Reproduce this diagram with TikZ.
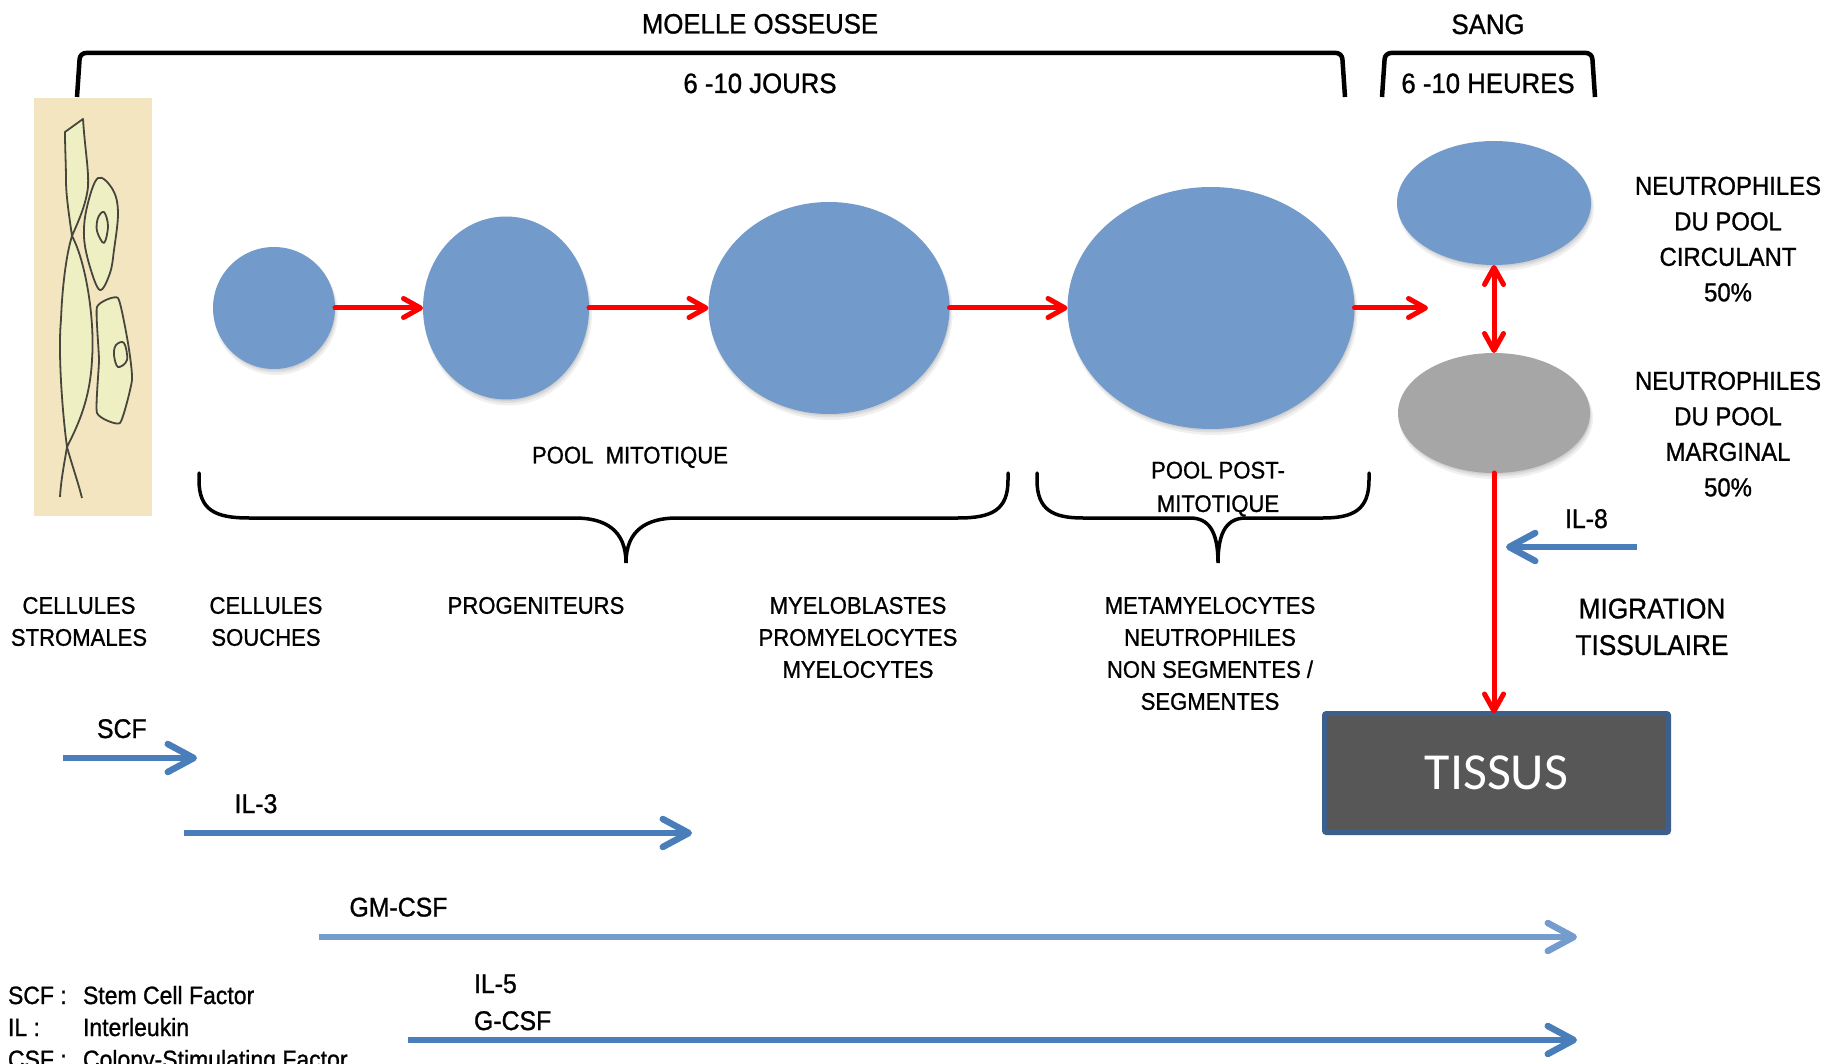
\documentclass[tikz,border=0pt]{standalone}
\usepackage{fontspec}
\setmainfont{Liberation Sans}[FakeStretch=0.92,FakeBold=1]
\newfontfamily\tissusfont{Carlito}
\usetikzlibrary{arrows.meta,shapes.geometric}

\definecolor{cellblue}{RGB}{114,155,203}
\definecolor{cellgray}{RGB}{166,166,166}
\definecolor{flowred}{RGB}{255,0,0}
\definecolor{cytoblue}{RGB}{74,126,187}
\definecolor{cytolight}{RGB}{116,157,205}
\definecolor{tissuefill}{RGB}{87,87,87}
\definecolor{tissueedge}{RGB}{60,95,140}
\definecolor{stromabg}{RGB}{243,229,191}
\definecolor{stromacell}{RGB}{238,240,196}
\definecolor{stromaline}{RGB}{70,70,60}

\newcommand\fsz[2]{\fontsize{#1}{#2}\selectfont}

\begin{document}
\begin{tikzpicture}[x=1pt,y=-1pt,
  every node/.style={inner sep=0pt,outer sep=0pt},
  cellnode/.style={ellipse,inner sep=0pt,fill=cellblue},
  redarrow/.style={draw=flowred,line width=5pt,line cap=round,line join=round,
    -{Straight Barb[length=17pt,width=19pt,line cap=round,line join=round]}},
  redboth/.style={draw=flowred,line width=5pt,line cap=round,line join=round,
    {Straight Barb[length=17pt,width=19pt,line cap=round,line join=round]}-{Straight Barb[length=17pt,width=19pt,line cap=round,line join=round]}},
  cytoarrow/.style={draw=cytoblue,line width=6.5pt,
    -{Straight Barb[length=26pt,width=28pt,line cap=round,line join=round]}},
  bracket/.style={draw=black,line width=4.5pt,rounded corners=6pt},
  brace/.style={draw=black,line width=3.5pt,line cap=round},
  toplabel/.style={anchor=base,font=\fsz{28}{34}},
  celllabel/.style={anchor=north,align=center,font=\fsz{24}{32}},
  poollabel/.style={anchor=north,align=center,font=\fsz{24}{33.5}},
  neutlabel/.style={anchor=north,align=center,font=\fsz{26}{35.5}},
  cytolabel/.style={anchor=base west,font=\fsz{27}{32}},
  legendtext/.style={anchor=base west,font=\fsz{25}{32}},
  stroma/.style={fill=stromacell,draw=stromaline,line width=1.8pt,line join=round},
]
\useasboundingbox (0,0) rectangle (1839,1064);
\clip (0,0) rectangle (1839,1064);

% ---------- headings and brackets ----------
\node[toplabel] (moelle) at (760,33.5) {MOELLE OSSEUSE};
\node[toplabel] (jours) at (760,93) {6 -10 JOURS};
\node[toplabel] (sang) at (1488,34) {SANG};
\node[toplabel] (heures) at (1488,93) {6 -10 HEURES};
\draw[bracket] (77,97) -- (80,53) -- (1342,53) -- (1345,97);
\draw[bracket] (1382,97) -- (1385,53) -- (1592,53) -- (1595,97);

% ---------- stromal cells ----------
\fill[stromabg] (34,98) rectangle (152,516);
\draw[stroma] (65,132) -- (83,119) .. controls (85,150) and (89,170) .. (88,187)
  .. controls (86,205) and (78,222) .. (72,236) .. controls (69,215) and (66,195) .. (66,180)
  .. controls (66,165) and (65,148) .. cycle;
\draw[stroma] (72,236) .. controls (86,262) and (95,320) .. (92,360)
  .. controls (90,400) and (78,425) .. (67,447) .. controls (62,410) and (58,350) .. (61,320)
  .. controls (62,290) and (66,255) .. (72,236);
\draw[stromaline,line width=1.8pt] (67,447) .. controls (64,465) and (61,480) .. (60,497);
\draw[stromaline,line width=1.8pt] (67,447) .. controls (72,465) and (78,482) .. (82,498);
\draw[stroma] plot[smooth cycle,tension=0.6] coordinates
  {(98,178) (113,190) (118,213) (114,250) (110,273) (100,290) (90,267) (84,237) (87,207)};
\draw[stroma] plot[smooth cycle,tension=0.6] coordinates
  {(104,212) (108,226) (104,243) (97,231) (98,218)};
\draw[stroma] plot[smooth cycle,tension=0.3] coordinates
  {(97,307) (118,298) (128,343) (132,380) (120,423) (97,413) (99,360)};
\draw[stroma] plot[smooth cycle,tension=0.6] coordinates
  {(116,345) (124,343) (127,360) (118,367) (114,355)};

% ---------- soft shadows under the cells ----------
\foreach \cx/\cy/\rx/\ry in {274/308/61/61,506/308/83/91.5,829/308/120.5/106,
    1211/308/143.5/121,1494/203/97/62,1494/413/96/60}{
  \fill[black,opacity=0.06] (\cx+2,\cy+5) ellipse [x radius={\rx+1},y radius={\ry+1}];
  \fill[black,opacity=0.07] (\cx+1.5,\cy+3.5) ellipse [x radius={\rx},y radius={\ry}];
  \fill[black,opacity=0.07] (\cx+1,\cy+2) ellipse [x radius={\rx-0.5},y radius={\ry-0.5}];
}

% ---------- maturation cells ----------
\node[cellnode,minimum width=122pt,minimum height=122pt] (souche) at (274,308) {};
\node[cellnode,minimum width=166pt,minimum height=183pt] (progen) at (506,308) {};
\node[cellnode,minimum width=241pt,minimum height=212pt] (myelo) at (829,308) {};
\node[cellnode,minimum width=287pt,minimum height=242pt] (meta) at (1211,308) {};
\node[cellnode,minimum width=194pt,minimum height=124pt] (circ) at (1494,203) {};
\node[cellnode,fill=cellgray,minimum width=192pt,minimum height=120pt] (marg) at (1494,413) {};

\node[draw=tissueedge,line width=5pt,fill=tissuefill,rounded corners=2pt,
  minimum width=344pt,minimum height=119pt,text=white,
  font=\tissusfont\fsz{52}{52}] (tissus) at (1496.5,773) {TISSUS};

\coordinate (sang in) at (1428,308);
\draw[redarrow] (souche) -- (progen);
\draw[redarrow] (progen) -- (myelo);
\draw[redarrow] (myelo) -- (meta);
\draw[redarrow] (meta) -- (sang in);
\draw[redboth] (circ) -- (marg);
\draw[redarrow] (marg.south) -- (marg.south |- tissus.north);

% ---------- braces ----------
\draw[brace] (199,473) -- (199,480) .. controls (199,510) and (215,518) .. (249,518)
  -- (575,518) .. controls (605,518) and (626,530) .. (626,563)
  .. controls (626,530) and (647,518) .. (677,518) -- (958,518)
  .. controls (992,518) and (1008,510) .. (1008,480) -- (1008,473);
\draw[brace] (1037,473) -- (1037,480) .. controls (1037,510) and (1053,518) .. (1083,518)
  -- (1190,518) .. controls (1208,518) and (1218,530) .. (1218,563)
  .. controls (1218,530) and (1228,518) .. (1246,518) -- (1323,518)
  .. controls (1353,518) and (1369,510) .. (1369,480) -- (1369,473);
\node[poollabel] (poolmito) at (630,446.7) {POOL\ \ MITOTIQUE};
\node[poollabel] (poolpost) at (1218,461.7) {POOL POST-\\MITOTIQUE};

% ---------- stage labels ----------
\node[celllabel] (lstroma) at (79,597) {CELLULES\\STROMALES};
\node[celllabel] (lsouche) at (266,597) {CELLULES\\SOUCHES};
\node[celllabel] (lprogen) at (536,597) {PROGENITEURS};
\node[celllabel] (lmyelo) at (858,597) {MYELOBLASTES\\PROMYELOCYTES\\MYELOCYTES};
\node[celllabel] (lmeta) at (1210,597) {METAMYELOCYTES\\NEUTROPHILES\\NON SEGMENTES /\\SEGMENTES};

\node[neutlabel] (lcirc) at (1728,176.7) {NEUTROPHILES\\DU POOL\\CIRCULANT\\50\%};
\node[neutlabel] (lmarg) at (1728,371.7) {NEUTROPHILES\\DU POOL\\MARGINAL\\50\%};
\node[anchor=north,align=center,font=\fsz{28.5}{36.5}] (lmigr) at (1652,598.5) {MIGRATION\\TISSULAIRE};

% ---------- cytokines ----------
\coordinate (il8a) at (1637,547);
\coordinate (il8b) at (1506,547);
\draw[cytoarrow] (il8a) -- (il8b);
\node[cytolabel] (lil8) at (1565,528) {IL-8};

\coordinate (scfa) at (63,758);
\coordinate (scfb) at (197,758);
\draw[cytoarrow] (scfa) -- (scfb);
\node[cytolabel] (lscf) at (97,738) {SCF};

\coordinate (il3a) at (184,833);
\coordinate (il3b) at (692,833);
\draw[cytoarrow] (il3a) -- (il3b);
\node[cytolabel] (lil3) at (234.6,813) {IL-3};

\coordinate (gma) at (319,937);
\coordinate (gmb) at (1577,937);
\draw[cytoarrow,draw=cytolight] (gma) -- (gmb);
\node[cytolabel] (lgm) at (349.5,916.5) {GM-CSF};

\coordinate (gca) at (408,1040);
\coordinate (gcb) at (1577,1040);
\draw[cytoarrow] (gca) -- (gcb);
\node[cytolabel] (lil5) at (474,993) {IL-5};
\node[cytolabel] (lgcsf) at (474,1030) {G-CSF};

% ---------- legend ----------
\node[legendtext] (k1) at (8,1004) {SCF :};
\node[legendtext] (v1) at (83,1004) {Stem Cell Factor};
\node[legendtext] (k2) at (8,1036) {IL :};
\node[legendtext] (v2) at (83,1036) {Interleukin};
\node[legendtext] (k3) at (8,1068) {CSF :};
\node[legendtext] (v3) at (83,1068) {Colony-Stimulating Factor};
\end{tikzpicture}
\end{document}
